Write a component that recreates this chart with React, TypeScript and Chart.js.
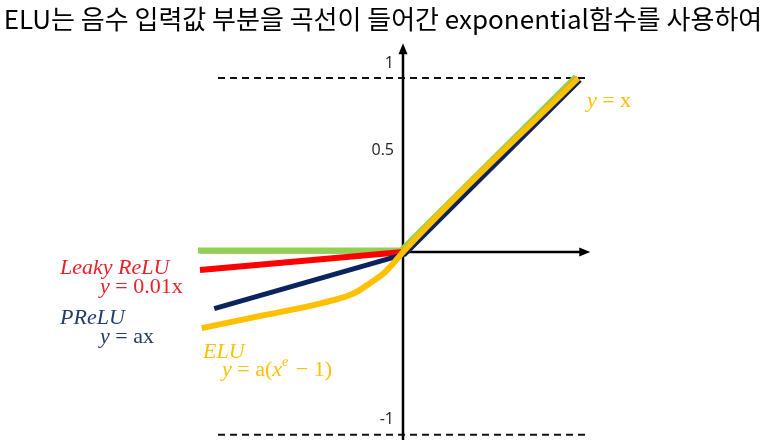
import React, { useEffect, useRef } from "react";
import { Chart, registerables } from "chart.js";

Chart.register(...registerables);

// ---- data ----
const titleText = "ELU는 음수 입력값 부분을 곡선이 들어간 exponential함수를 사용하여";

const reluX = [-1.16, 0, 1.0];
const reluY = [0, 0, 1.0];

const leakyX = [-1.16, 0, 1.0];
const leakyY = [-0.103, 0, 1.0];

const preluX = [-1.09, 0, 1.0];
const preluY = [-0.314, 0, 1.0];

const eluX = [-1.15, -0.8, -0.47, -0.28, -0.19, -0.11, -0.055, 0, 1.0];
const eluY = [-0.437, -0.364, -0.295, -0.237, -0.18, -0.122, -0.065, 0, 1.0];

const guideX = [-1.057, 1.057];
const guideLevels = [1, -1.05];

const tickLabels = ["1", "0.5", "-1"];
const tickValues = [1, 0.5, -1.05];

const xAxisRange = [-1.16, 1.07];
const yAxisRange = [-1.08, 1.2];

// annotation anchors in data units
const annotations = [
  { x: -1.96, y: -0.092, color: "#E8202A", segs: [{ t: "Leaky ReLU", i: true }] },
  { x: -1.731, y: -0.201, color: "#E8202A", segs: [{ t: "y", i: true }, { t: " = 0.01x" }] },
  { x: -1.96, y: -0.379, color: "#223A6C", segs: [{ t: "PReLU", i: true }] },
  { x: -1.731, y: -0.489, color: "#223A6C", segs: [{ t: "y", i: true }, { t: " = ax" }] },
  { x: -1.143, y: -0.575, color: "#FFC000", segs: [{ t: "ELU", i: true }] },
  {
    x: -1.034,
    y: -0.678,
    color: "#FFC000",
    segs: [{ t: "y", i: true }, { t: " = a(" }, { t: "x", i: true }, { t: "e", i: true, s: true }, { t: " − 1)" }],
  },
  { x: 1.051, y: 0.868, color: "#FFC000", segs: [{ t: "y", i: true }, { t: " = x" }] },
];

const toPts = (xs: number[], ys: number[]) => xs.map((x, k) => ({ x, y: ys[k] }));

const overlayPlugin = {
  id: "overlay",
  beforeDatasetsDraw(chart: any) {
    const { ctx, scales } = chart;
    const xs = scales.x;
    const ys = scales.y;
    ctx.save();
    ctx.strokeStyle = "#000";
    ctx.fillStyle = "#000";
    ctx.lineWidth = 2.5;
    // x axis
    const y0 = ys.getPixelForValue(0);
    const xa = xs.getPixelForValue(xAxisRange[0]);
    const xb = xs.getPixelForValue(xAxisRange[1]);
    ctx.beginPath();
    ctx.moveTo(xa, y0);
    ctx.lineTo(xb - 6, y0);
    ctx.stroke();
    ctx.beginPath();
    ctx.moveTo(xb, y0);
    ctx.lineTo(xb - 11, y0 - 4.5);
    ctx.lineTo(xb - 11, y0 + 4.5);
    ctx.closePath();
    ctx.fill();
    // y axis
    const x0 = xs.getPixelForValue(0);
    const ya = ys.getPixelForValue(yAxisRange[0]);
    const yb = ys.getPixelForValue(yAxisRange[1]);
    ctx.beginPath();
    ctx.moveTo(x0, ya);
    ctx.lineTo(x0, yb + 6);
    ctx.stroke();
    ctx.beginPath();
    ctx.moveTo(x0, yb);
    ctx.lineTo(x0 - 4.5, yb + 11);
    ctx.lineTo(x0 + 4.5, yb + 11);
    ctx.closePath();
    ctx.fill();
    // tick labels
    ctx.font = '16px "Open Sans"';
    ctx.fillStyle = "#222";
    ctx.textAlign = "right";
    ctx.textBaseline = "bottom";
    tickLabels.forEach((lab, k) => {
      ctx.fillText(lab, x0 - 9, ys.getPixelForValue(tickValues[k]) - 7);
    });
    ctx.restore();
  },
  beforeDatasetDraw(chart: any, args: any) {
    const ds = chart.data.datasets[args.index];
    chart.ctx.save();
    if (ds.shift) chart.ctx.translate(ds.shift[0], ds.shift[1]);
  },
  afterDatasetDraw(chart: any) {
    chart.ctx.restore();
  },
  afterDraw(chart: any) {
    const { ctx, scales } = chart;
    ctx.save();
    // title
    ctx.font = '26px "Noto Sans CJK KR"';
    ctx.fillStyle = "#000";
    ctx.textAlign = "center";
    ctx.textBaseline = "middle";
    ctx.fillText(titleText, chart.width / 2, 19);
    // annotations
    ctx.textAlign = "left";
    const size = 22;
    annotations.forEach((a) => {
      let cx = scales.x.getPixelForValue(a.x);
      const cy = scales.y.getPixelForValue(a.y);
      ctx.fillStyle = a.color;
      a.segs.forEach((s: any) => {
        const fs = s.s ? Math.round(size * 0.62) : size;
        ctx.font = `${s.i ? "italic " : ""}${fs}px "Liberation Serif"`;
        ctx.fillText(s.t, cx, s.s ? cy - size * 0.33 : cy);
        cx += ctx.measureText(s.t).width + (s.s ? 2 : 0);
      });
    });
    ctx.restore();
  },
};

export default function App() {
  const ref = useRef<HTMLCanvasElement>(null);
  useEffect(() => {
    if (!ref.current) return;
    const line = (label: string, pts: any[], color: string, w: number, order: number, extra: any = {}) => ({
      label,
      data: pts,
      order,
      borderColor: color,
      backgroundColor: color,
      borderWidth: w,
      pointRadius: 0,
      fill: false,
      showLine: true,
      borderCapStyle: "butt",
      borderJoinStyle: "round",
      ...extra,
    });
    const chart = new Chart(ref.current, {
      type: "scatter",
      data: {
        datasets: [
          line("guide top", toPts(guideX, [guideLevels[0], guideLevels[0]]), "#111", 2, 10, { borderDash: [7, 5] }),
          line("guide bottom", toPts(guideX, [guideLevels[1], guideLevels[1]]), "#111", 2, 10, { borderDash: [7, 5] }),
          line("ReLU", toPts(reluX, reluY), "#92D050", 6, 5, { shift: [-2, -1.5] }),
          line("Leaky ReLU", toPts(leakyX, leakyY), "#FF0000", 6, 4),
          line("PReLU", toPts(preluX, preluY), "#0B2460", 5, 3, { shift: [2, 2] }),
          line("ELU", toPts(eluX, eluY), "#FFC000", 6, 1, { cubicInterpolationMode: "monotone" }),
        ] as any,
      },
      options: {
        responsive: false,
        maintainAspectRatio: false,
        animation: false,
        layout: { padding: { left: 193, right: 153, top: 43.2, bottom: 0 } },
        scales: {
          x: { type: "linear", min: -1.2, max: 1.2, display: false },
          y: { type: "linear", min: -1.08, max: 1.2, display: false },
        },
        plugins: { legend: { display: false }, tooltip: { enabled: false }, title: { display: false } },
      },
      plugins: [overlayPlugin],
    } as any);
    return () => chart.destroy();
  }, []);
  return (
    <div style={{ position: "fixed", left: 0, top: 0, width: 766, height: 440, background: "#fff" }}>
      <canvas ref={ref} width={766} height={440} />
    </div>
  );
}
